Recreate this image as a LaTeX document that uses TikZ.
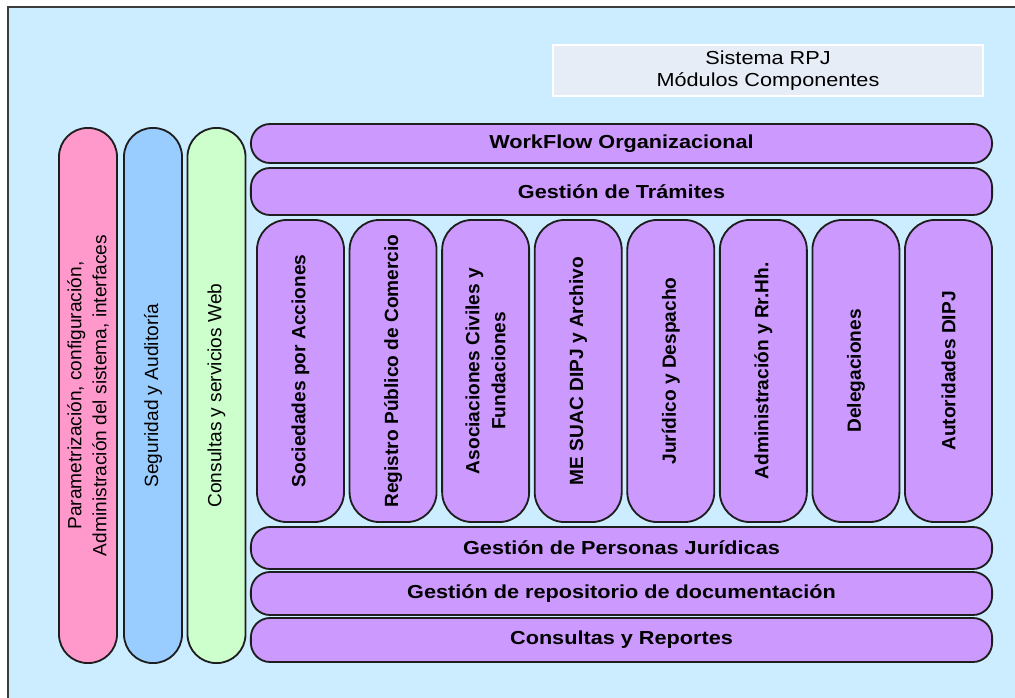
\documentclass[tikz,border=0pt]{standalone}
\usepackage{xcolor}
\usepackage{fontspec}
\setmainfont{Liberation Sans}
\newfontfamily\widesans{Liberation Sans}[FakeStretch=1.15]
\usepackage{tikz}
\definecolor{bgblue}{RGB}{204,236,255}
\definecolor{pillpink}{RGB}{255,153,204}
\definecolor{pillblue}{RGB}{153,204,255}
\definecolor{pillgreen}{RGB}{204,255,204}
\definecolor{modpurple}{RGB}{204,153,255}
\definecolor{titlegray}{RGB}{230,237,247}
\definecolor{edgegray}{RGB}{30,30,30}
\definecolor{framegray}{RGB}{60,60,60}

\begin{document}
\begin{tikzpicture}[x=0.025cm,y=-0.025cm,
	hbar/.style={draw=edgegray, line width=1.3pt, fill=modpurple, minimum width=18.525cm, rounded corners=0.48cm, inner sep=0pt, font=\widesans\bfseries\fontsize{13.4}{16}\selectfont},
	modcol/.style={draw=edgegray, line width=1.3pt, fill=modpurple, rotate=90, minimum width=7.55cm, minimum height=2.175cm, rounded corners=0.75cm, align=center, inner sep=0pt, font=\bfseries\fontsize{13.6}{18.5}\selectfont},
	sidepill/.style={draw=edgegray, line width=1.3pt, rotate=90, minimum width=13.375cm, minimum height=1.45cm, rounded corners=0.72cm, align=center, inner sep=0pt, font=\fontsize{13.6}{17.8}\selectfont},
	titlebox/.style={draw=white, line width=1.2pt, fill=titlegray, minimum width=10.75cm, minimum height=1.275cm, align=center, inner sep=0pt, font=\widesans\fontsize{13.4}{15.6}\selectfont}]
	\useasboundingbox (0,0) rectangle (1015,698);
	% Fondo y marco
	\fill[white] (0,0) rectangle (1015,698);
	\fill[bgblue] (8,7) rectangle (1015,698);
	\draw[framegray, line width=1.1pt] (8,698) -- (8,7) -- (1015,7);
	% Titulo
	\node[titlebox] (titulo) at (768,70.5) {Sistema RPJ\\Módulos Componentes};
	% Columnas laterales
	\node[sidepill, fill=pillpink] (param) at (88,395.5) {Parametrización, configuración,\\Administración del sistema, interfaces};
	\node[sidepill, fill=pillblue] (seguridad) at (153,395.5) {Seguridad y Auditoría};
	\node[sidepill, fill=pillgreen] (webserv) at (216.5,395.5) {Consultas y servicios Web};
	% Barras horizontales
	\node[hbar, minimum height=0.975cm] (workflow) at (621.5,143.5) {WorkFlow Organizacional};
	\node[hbar, minimum height=1.175cm] (tramites) at (621.5,191.5) {Gestión de Trámites};
	\node[hbar, minimum height=1.05cm] (personas) at (621.5,548) {Gestión de Personas Jurídicas};
	\node[hbar, minimum height=1.075cm] (repositorio) at (621.5,593.5) {Gestión de repositorio de documentación};
	\node[hbar, minimum height=1.1cm] (reportes) at (621.5,640) {Consultas y Reportes};
	% Modulos
	\foreach \lbl [count=\i from 0] in {Sociedades por Acciones, Registro Público de Comercio, {Asociaciones Civiles y\\Fundaciones}, ME SUAC DIPJ y Archivo, Jurídico y Despacho, Administración y Rr.Hh., Delegaciones, Autoridades DIPJ}{
		\node[modcol] (mod\i) at (300.5+92.57*\i,371) {\lbl};
	}
\end{tikzpicture}
\end{document}
